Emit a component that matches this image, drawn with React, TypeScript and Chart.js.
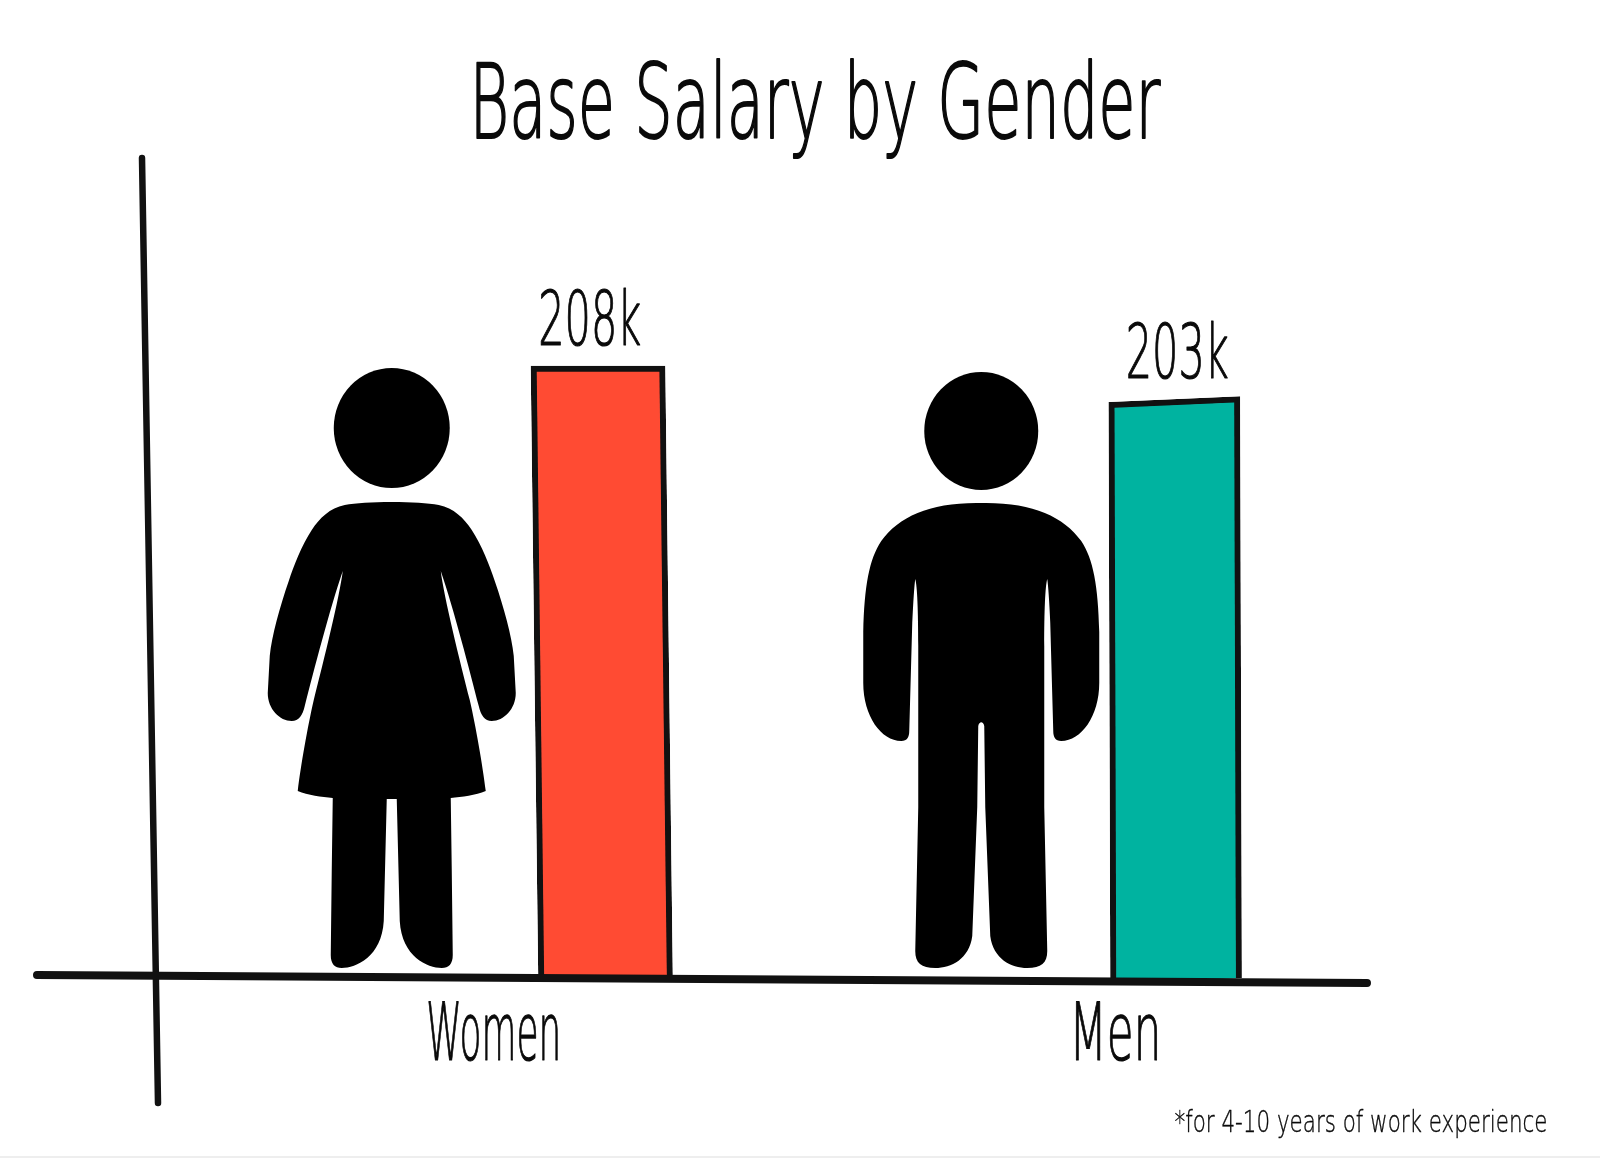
import React, { useEffect, useRef } from 'react';
import Chart from 'chart.js/auto';

const categories = ['Women', 'Men'];
const salaries = [208, 203];
const barColors = ['#FF4B33', '#00B3A0'];
const titleText = 'Base Salary by Gender';
const footnoteText = '*for 4-10 years of work experience';

const FONT = '"DejaVu Sans"';
const INK = '#0a0a0a';
const Y_MIN = 116;

// hand-drawn lean of each bar: [x shear, y shear]
const barLean = [[0.0123, 0], [0.003, -0.045]];
const barWidths = [134, 131];
// label and figure placement, relative to the bar of the category
const labelShift = [-108, -60];
const valueShift = [-12, 2];
const figureShift = [-210, -194];

const womanPath =
  'M0,-479 C20,-479 36,-478 47,-476 C62,-473 72,-463 80,-451 C90,-436 98,-415 103,-400 C112,-374 120,-345 122,-325 ' +
  'L124,-288 C124,-272 112,-260 100,-260 C93,-260 89,-266 87,-275 C78,-310 62,-372 49,-410 C52,-385 68,-320 78,-281 ' +
  'C84,-255 91,-215 94,-190 C84,-186 70,-184 59,-183 L60,-111 L61,-26 C61,-17 57,-13 50,-13 C36,-13 10,-24 8,-60 L5,-182 ' +
  'L-5,-182 L-8,-60 C-10,-24 -36,-13 -50,-13 C-57,-13 -61,-17 -61,-26 L-60,-111 L-59,-183 C-70,-184 -84,-186 -94,-190 ' +
  'C-91,-215 -84,-255 -78,-281 C-68,-320 -52,-385 -49,-410 C-62,-372 -78,-310 -87,-275 C-89,-266 -93,-260 -100,-260 ' +
  'C-112,-260 -124,-272 -124,-288 L-122,-325 C-120,-345 -112,-374 -103,-400 C-98,-415 -90,-436 -80,-451 ' +
  'C-72,-463 -62,-473 -47,-476 C-36,-478 -20,-479 0,-479 Z';

const manPath =
  'M0,-478 C50,-479 82,-465 100,-440 C112,-422 117,-395 118,-349 L118,-298 C118,-265 100,-240 80,-240 C74,-240 72,-244 72,-250 ' +
  'L69,-358 C68,-380 67,-395 66,-402 C64,-395 63,-370 63,-335 L63,-174 L66,-30 C66,-18 60,-13 46,-13 ' +
  'C30,-13 12,-22 9,-45 L4,-174 L3,-255 C2,-260 -2,-260 -3,-255 L-4,-174 L-9,-45 C-12,-22 -30,-13 -46,-13 C-60,-13 -66,-18 -66,-30 ' +
  'L-63,-174 L-63,-335 C-63,-370 -64,-395 -66,-402 C-67,-395 -68,-380 -69,-358 L-72,-250 C-72,-244 -74,-240 -80,-240 ' +
  'C-100,-240 -118,-265 -118,-298 L-118,-349 C-117,-395 -112,-422 -100,-440 C-82,-465 -50,-479 0,-478 Z';

const figures = [
  { path: womanPath, headY: -553, rx: 58, ry: 60 },
  { path: manPath, headY: -550, rx: 57, ry: 59 },
];

// text squeezed to a given width, the original lettering is tall and narrow
function drawText(
  ctx: CanvasRenderingContext2D,
  text: string,
  cx: number,
  baseline: number,
  size: number,
  width: number,
  weight: number,
) {
  ctx.save();
  ctx.font = `200 ${size}px ${FONT}`;
  ctx.fillStyle = INK;
  ctx.strokeStyle = INK;
  ctx.lineJoin = 'round';
  ctx.textAlign = 'center';
  ctx.textBaseline = 'alphabetic';
  const sx = width / ctx.measureText(text).width;
  ctx.translate(cx, baseline);
  ctx.scale(sx, 1);
  ctx.lineWidth = weight;
  ctx.fillText(text, 0, 0);
  ctx.strokeText(text, 0, 0);
  ctx.restore();
}

const sketchPlugin = {
  id: 'sketch',
  beforeDatasetDraw(chart: any, args: any) {
    const { ctx, scales } = chart;
    const i = args.index;
    const [k, m] = barLean[i];
    const cx = scales.x.getPixelForValue(i);
    const cy = scales.y.getPixelForValue(salaries[i]);
    ctx.save();
    ctx.transform(1, m, k, 1, -k * (cy + 305), -m * cx);
  },
  afterDatasetDraw(chart: any) {
    chart.ctx.restore();
  },
  afterDraw(chart: any) {
    const { ctx, scales } = chart;
    const base = scales.y.getPixelForValue(Y_MIN);

    // figures
    figures.forEach((f, i) => {
      const x = scales.x.getPixelForValue(i) + figureShift[i];
      ctx.save();
      ctx.translate(x, base);
      ctx.fillStyle = '#000';
      ctx.fill(new Path2D(f.path));
      ctx.beginPath();
      ctx.ellipse(0, f.headY, f.rx, f.ry, 0, 0, Math.PI * 2);
      ctx.fill();
      ctx.restore();
    });

    // slanted axes
    ctx.save();
    ctx.strokeStyle = '#111';
    ctx.lineCap = 'round';
    ctx.lineWidth = 6.5;
    ctx.beginPath();
    ctx.moveTo(142, 158);
    ctx.lineTo(158, 1103);
    ctx.stroke();
    ctx.lineWidth = 8;
    ctx.beginPath();
    ctx.moveTo(37, 975);
    ctx.lineTo(1367, 983);
    ctx.stroke();
    ctx.restore();

    // lettering
    drawText(ctx, titleText, 815, 138, 104, 691, 2);
    categories.forEach((c, i) => {
      const x = scales.x.getPixelForValue(i);
      drawText(ctx, c, x + labelShift[i], 1060, 80, i === 0 ? 135 : 92, 1.2);
      const top = scales.y.getPixelForValue(salaries[i]);
      drawText(ctx, `${salaries[i]}k`, x + valueShift[i], top - 21, 74, 103, 1.2);
    });
    drawText(ctx, footnoteText, 1361, 1132, 30, 373, 0.4);
  },
};

const App: React.FC = () => {
  const chartRef = useRef<HTMLCanvasElement>(null);

  useEffect(() => {
    if (!chartRef.current) return;
    document.body.style.margin = '0';

    const chart = new Chart(chartRef.current, {
      type: 'bar',
      data: {
        labels: categories,
        datasets: categories.map((c, i) => ({
          label: c,
          data: salaries.map((v, j) => (j === i ? v : null)),
          base: Y_MIN,
          backgroundColor: barColors[i],
          borderColor: '#111',
          borderWidth: 6,
          barThickness: barWidths[i],
          grouped: false,
          clip: false,
        })),
      },
      options: {
        animation: false,
        responsive: false,
        layout: { padding: { left: 315, right: 138, top: 112, bottom: 175 } },
        plugins: { legend: { display: false }, title: { display: false }, tooltip: { enabled: false } },
        scales: {
          x: { display: false },
          y: { display: false, min: Y_MIN, max: 246 },
        },
      },
      plugins: [sketchPlugin],
    });

    return () => chart.destroy();
  }, []);

  return (
    <div style={{ width: 1600, height: 1158, background: '#eeeeee' }}>
      <canvas ref={chartRef} width={1600} height={1156} style={{ display: 'block', background: '#fff' }} />
    </div>
  );
};

export default App;
